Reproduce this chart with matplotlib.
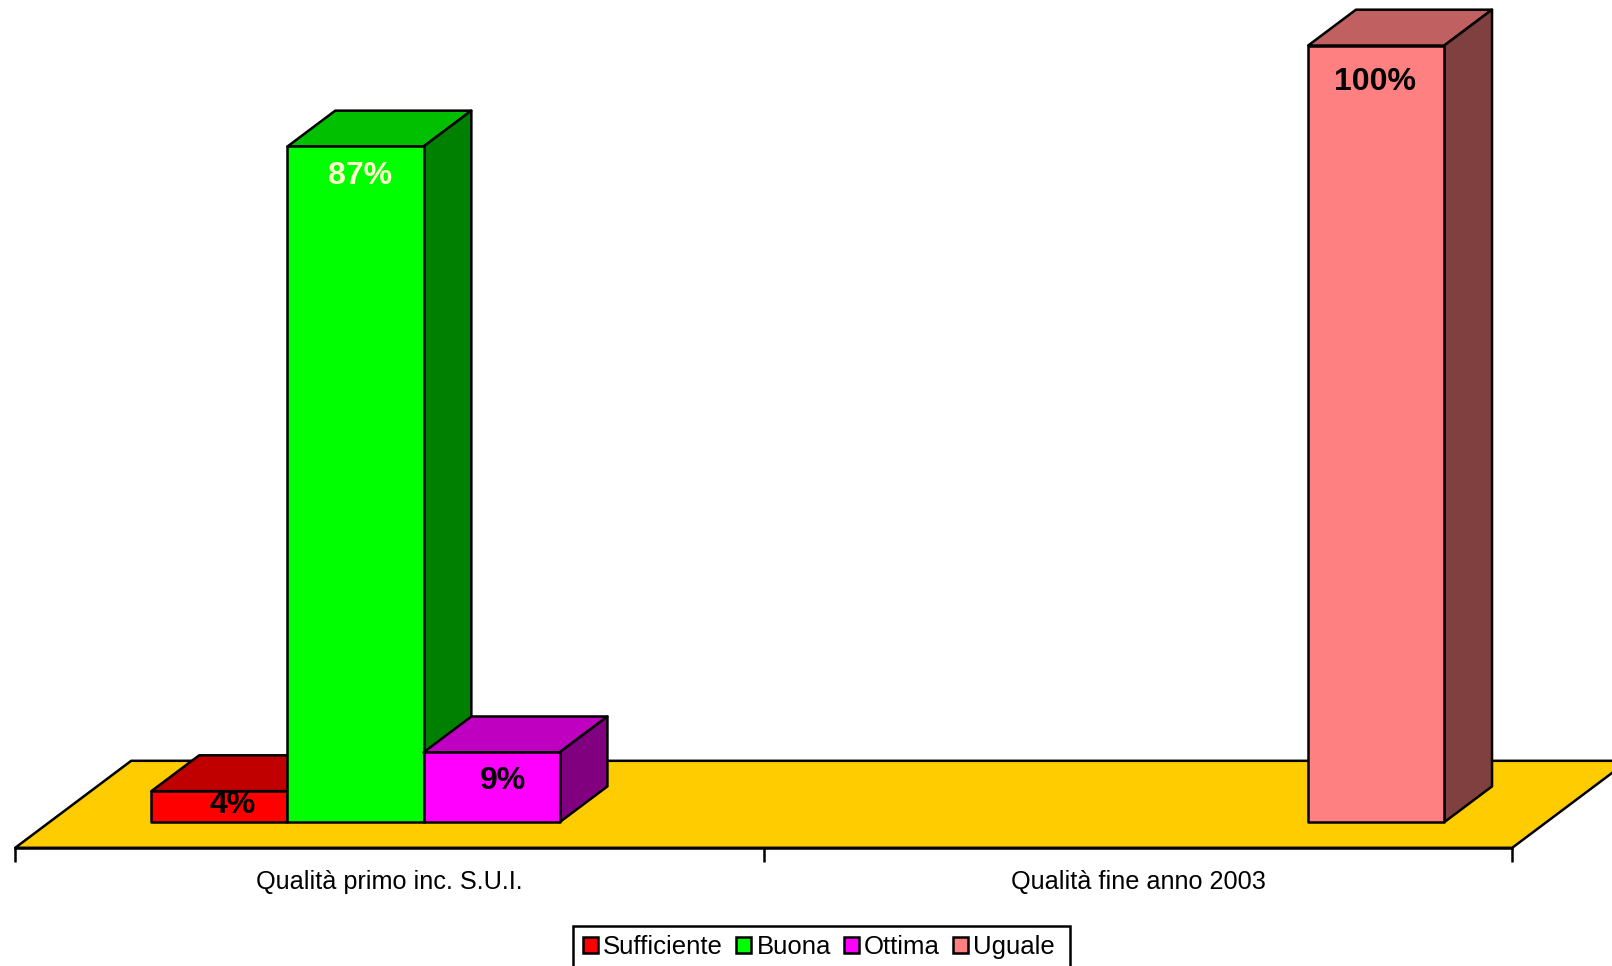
import matplotlib
matplotlib.use("Agg")
import matplotlib.pyplot as plt
from matplotlib.patches import Polygon, Patch
from matplotlib.offsetbox import DrawingArea

plt.rcParams['font.family'] = ['Liberation Sans', 'DejaVu Sans']

categories = ["Qualità primo inc. S.U.I.", "Qualità fine anno 2003"]
series_names = ["Sufficiente", "Buona", "Ottima", "Uguale"]
sufficiente = [4, None]
buona = [87, None]
ottima = [9, None]
uguale = [None, 100]
value_labels = ["4%", "87%", "9%", "100%"]

W, H = 1612, 966
front_colors = ["#FF0000", "#00FF00", "#FF00FF", "#FF8080"]
top_colors = ["#C00000", "#00C000", "#C000C0", "#C06060"]
side_colors = ["#800000", "#008000", "#800080", "#804040"]
floor_color = "#FFCC00"

# pixel geometry of the plot box
x0_px, x2_px = 15.2, 1512.2
base_px = 847.8
px_per_cat = (x2_px - x0_px) / 2
px_per_pct = 7.767
floor_dx_px, floor_dy_px = 116.0, 87.0
depth_front, depth_back = 0.294, 0.706
bar_slots = 5.5
gap_slots = 0.75
LW = 1.8

fig = plt.figure(figsize=(W / 100, H / 100), dpi=100, facecolor="white")
ax = fig.add_axes([x0_px / W, 1 - base_px / H, (x2_px - x0_px) / W, base_px / H])
ax.set_xlim(0, 2)
ax.set_ylim(0, base_px / px_per_pct)
ax.patch.set_visible(False)
for s in ("top", "left", "right"):
    ax.spines[s].set_visible(False)
ax.spines["bottom"].set_linewidth(LW)
ax.spines["bottom"].set_zorder(20)


def proj(x, y, d):
    return (x + d * floor_dx_px / px_per_cat, y + d * floor_dy_px / px_per_pct)


def poly(pts, color, z):
    ax.add_patch(Polygon(pts, closed=True, facecolor=color, edgecolor="black",
                         linewidth=LW, joinstyle="round", clip_on=False, zorder=z))


# floor
poly([proj(0, 0, 0), proj(2, 0, 0), proj(2, 0, 1), proj(0, 0, 1)], floor_color, 1)

all_series = [sufficiente, buona, ottima, uguale]
bar_w = 1 / bar_slots
# hand-placed label offsets in pixels, relative to the bar's front-top centre
label_dx = [13.4, 4.2, 11.0, -1.5]
label_dy = [-14, -30, -29, -36]
label_colors = ["black", "#FFFFCC", "black", "black"]

z = 2
for cat in range(len(categories)):
    for i, vals in enumerate(all_series):
        v = vals[cat]
        if v is None:
            continue
        x_l = cat + (gap_slots + i) * bar_w
        x_r = x_l + bar_w
        poly([proj(x_l, v, depth_front), proj(x_r, v, depth_front),
              proj(x_r, v, depth_back), proj(x_l, v, depth_back)], top_colors[i], z)
        poly([proj(x_r, 0, depth_front), proj(x_r, 0, depth_back),
              proj(x_r, v, depth_back), proj(x_r, v, depth_front)], side_colors[i], z)
        poly([proj(x_l, 0, depth_front), proj(x_r, 0, depth_front),
              proj(x_r, v, depth_front), proj(x_l, v, depth_front)], front_colors[i], z + 1)
        z += 2
        cx, cy = proj((x_l + x_r) / 2, v, depth_front)
        ax.annotate(value_labels[i], (cx, cy),
                    xytext=(label_dx[i] * 0.72, label_dy[i] * 0.72),
                    textcoords="offset points", ha="center", va="center",
                    fontsize=23, fontweight="bold", color=label_colors[i],
                    zorder=30, annotation_clip=False)

ax.set_xticks([0, 1, 2])
ax.set_xticklabels([])
ax.tick_params(axis="x", which="major", length=10, width=LW, color="black", direction="out")
ax.set_xticks([0.5, 1.5], minor=True)
ax.set_xticklabels(categories, minor=True, fontsize=18.2)
ax.tick_params(axis="x", which="minor", length=0, pad=16)
ax.set_yticks([])

handles = [Patch(facecolor=c, edgecolor="black", linewidth=LW) for c in front_colors]
leg = fig.legend(handles, series_names, ncol=4, loc="lower left",
                 bbox_to_anchor=(573.3 / W, 1 - 968 / H), borderaxespad=0,
                 fontsize=18.5, frameon=True, fancybox=False, framealpha=1,
                 edgecolor="black", handlelength=0.6, handleheight=0.6,
                 handletextpad=0.2, columnspacing=0.5, borderpad=0.36,
                 labelspacing=0)
leg.get_frame().set_linewidth(LW)
# the reference frame has a little extra room after the last entry
last_column = leg._legend_handle_box.get_children()[-1]
last_column.get_children()[0].get_children().append(DrawingArea(0, 0))

fig.savefig("out.png", dpi=100)
